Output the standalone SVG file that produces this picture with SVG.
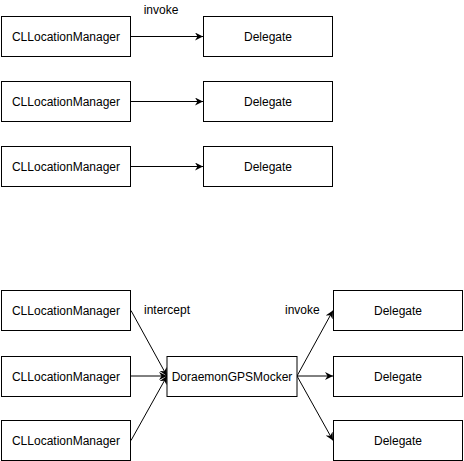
<svg xmlns="http://www.w3.org/2000/svg" width="464" height="461" viewBox="0 0 464 461">
<style>
.box{fill:#fff;stroke:#000;stroke-width:1}
.t{font-family:"Liberation Sans",Arial,sans-serif;font-size:12px;fill:#000}
.c{text-anchor:middle}
.ln{stroke:#000;stroke-width:1;fill:none;marker-end:url(#arr)}
</style>
<defs>
<marker id="arr" markerUnits="userSpaceOnUse" markerWidth="9" markerHeight="8" refX="8" refY="4" orient="auto" viewBox="0 0 9 8">
<path d="M0,0 L8,4 L0,8 L2.5,4 Z" fill="#000"/>
</marker>
</defs>
<rect width="464" height="461" fill="#fff"/>
<g id="connectors">
<line class="ln" x1="131" y1="36.5" x2="203" y2="36.5"/>
<line class="ln" x1="131" y1="101.5" x2="203" y2="101.5"/>
<line class="ln" x1="131" y1="166.5" x2="203" y2="166.5"/>
<line class="ln" x1="131" y1="310.5" x2="167" y2="376"/>
<line class="ln" x1="131" y1="376" x2="167" y2="376"/>
<line class="ln" x1="131" y1="440.5" x2="167" y2="376"/>
<line class="ln" x1="297" y1="376" x2="333" y2="310.5"/>
<line class="ln" x1="297" y1="376" x2="333" y2="376"/>
<line class="ln" x1="297" y1="376" x2="333" y2="440.5"/>
</g>
<g id="lbl-invoke-top"><text class="t c" x="161" y="14">invoke</text></g>
<g id="lbl-intercept"><text class="t" x="144" y="314">intercept</text></g>
<g id="lbl-invoke-bottom"><text class="t" x="285" y="314">invoke</text></g>
<g id="m1"><rect class="box" x="1.5" y="16.5" width="129" height="40"/><text class="t c" x="66" y="41">CLLocationManager</text></g>
<g id="d1"><rect class="box" x="203.5" y="16.5" width="129" height="40"/><text class="t c" x="268" y="41">Delegate</text></g>
<g id="m2"><rect class="box" x="1.5" y="81.5" width="129" height="40"/><text class="t c" x="66" y="106">CLLocationManager</text></g>
<g id="d2"><rect class="box" x="203.5" y="81.5" width="129" height="40"/><text class="t c" x="268" y="106">Delegate</text></g>
<g id="m3"><rect class="box" x="1.5" y="146.5" width="129" height="40"/><text class="t c" x="66" y="171">CLLocationManager</text></g>
<g id="d3"><rect class="box" x="203.5" y="146.5" width="129" height="40"/><text class="t c" x="268" y="171">Delegate</text></g>
<g id="m4"><rect class="box" x="1.5" y="290.5" width="129" height="40"/><text class="t c" x="66" y="315">CLLocationManager</text></g>
<g id="m5"><rect class="box" x="1.5" y="356.5" width="129" height="40"/><text class="t c" x="66" y="381">CLLocationManager</text></g>
<g id="m6"><rect class="box" x="1.5" y="420.5" width="129" height="40"/><text class="t c" x="66" y="445">CLLocationManager</text></g>
<g id="mocker"><rect class="box" x="167" y="356.5" width="130" height="40"/><text class="t c" x="232" y="381">DoraemonGPSMocker</text></g>
<g id="d4"><rect class="box" x="333.5" y="290.5" width="129" height="40"/><text class="t c" x="398" y="315">Delegate</text></g>
<g id="d5"><rect class="box" x="333.5" y="356.5" width="129" height="40"/><text class="t c" x="398" y="381">Delegate</text></g>
<g id="d6"><rect class="box" x="333.5" y="420.5" width="129" height="40"/><text class="t c" x="398" y="445">Delegate</text></g>
</svg>
